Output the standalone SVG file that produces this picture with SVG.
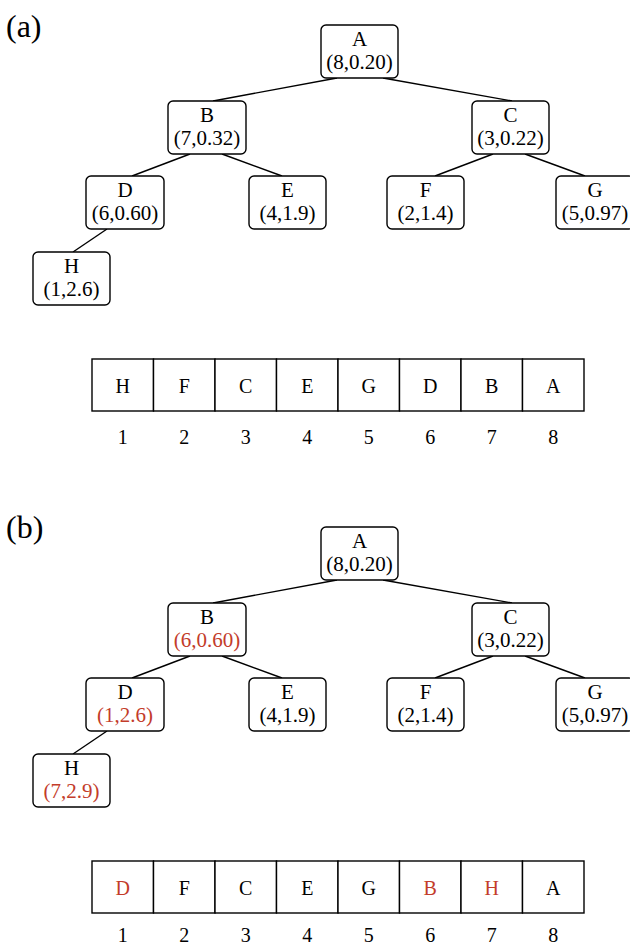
<svg xmlns="http://www.w3.org/2000/svg" width="630" height="947" viewBox="0 0 630 947">
<style>
text{font-family:"Liberation Serif","Times New Roman",serif;fill:#000;text-anchor:middle}
.nb{fill:#fff;stroke:#000;stroke-width:1.4}
.t{font-size:21px}
.at{font-size:20px}
.red{fill:#c33c2a}
.edge{stroke:#000;stroke-width:1.4;fill:none}
.cell{fill:#fff;stroke:#000;stroke-width:1.4}
.lab{font-size:32px;text-anchor:start}
</style>
<rect width="630" height="947" fill="#fff"/>

<!-- Panel (a) -->
<text class="lab" x="6" y="37">(a)</text>
<g id="edges-a">
<line class="edge" x1="337" y1="78" x2="213" y2="101"/>
<line class="edge" x1="383" y1="78" x2="512" y2="101"/>
<line class="edge" x1="190" y1="154" x2="132" y2="176"/>
<line class="edge" x1="222" y1="154" x2="282" y2="176"/>
<line class="edge" x1="107" y1="229" x2="73" y2="252"/>
<line class="edge" x1="493" y1="154" x2="435" y2="176"/>
<line class="edge" x1="525" y1="154" x2="585" y2="176"/>
</g>
<g id="a-A"><rect class="nb" x="321" y="25" width="77" height="53" rx="5"/><text class="t" x="359.5" y="46">A</text><text class="t" x="359.5" y="69">(8,0.20)</text></g>
<g id="a-B"><rect class="nb" x="168" y="101" width="78" height="53" rx="5"/><text class="t" x="207" y="122">B</text><text class="t" x="207" y="145">(7,0.32)</text></g>
<g id="a-C"><rect class="nb" x="472" y="101" width="77" height="53" rx="5"/><text class="t" x="510.5" y="122">C</text><text class="t" x="510.5" y="145">(3,0.22)</text></g>
<g id="a-D"><rect class="nb" x="86" y="176" width="78" height="53" rx="5"/><text class="t" x="125" y="197">D</text><text class="t" x="125" y="220">(6,0.60)</text></g>
<g id="a-E"><rect class="nb" x="249" y="176" width="77" height="53" rx="5"/><text class="t" x="287.5" y="197">E</text><text class="t" x="287.5" y="220">(4,1.9)</text></g>
<g id="a-F"><rect class="nb" x="387" y="176" width="77" height="53" rx="5"/><text class="t" x="425.5" y="197">F</text><text class="t" x="425.5" y="220">(2,1.4)</text></g>
<g id="a-G"><rect class="nb" x="556" y="176" width="78" height="53" rx="5"/><text class="t" x="595" y="197">G</text><text class="t" x="595" y="220">(5,0.97)</text></g>
<g id="a-H"><rect class="nb" x="33" y="252" width="77" height="53" rx="5"/><text class="t" x="71.5" y="273">H</text><text class="t" x="71.5" y="296">(1,2.6)</text></g>

<g id="array-a">
<rect class="cell" x="92" y="359" width="61.5" height="52"/>
<rect class="cell" x="153.5" y="359" width="61.5" height="52"/>
<rect class="cell" x="215" y="359" width="61.5" height="52"/>
<rect class="cell" x="276.5" y="359" width="61.5" height="52"/>
<rect class="cell" x="338" y="359" width="61.5" height="52"/>
<rect class="cell" x="399.5" y="359" width="61.5" height="52"/>
<rect class="cell" x="461" y="359" width="61.5" height="52"/>
<rect class="cell" x="522.5" y="359" width="61.5" height="52"/>
<text class="at" x="122.75" y="393">H</text>
<text class="at" x="184.25" y="393">F</text>
<text class="at" x="245.75" y="393">C</text>
<text class="at" x="307.25" y="393">E</text>
<text class="at" x="368.75" y="393">G</text>
<text class="at" x="430.25" y="393">D</text>
<text class="at" x="491.75" y="393">B</text>
<text class="at" x="553.25" y="393">A</text>
<text class="at" x="122.75" y="444">1</text>
<text class="at" x="184.25" y="444">2</text>
<text class="at" x="245.75" y="444">3</text>
<text class="at" x="307.25" y="444">4</text>
<text class="at" x="368.75" y="444">5</text>
<text class="at" x="430.25" y="444">6</text>
<text class="at" x="491.75" y="444">7</text>
<text class="at" x="553.25" y="444">8</text>
</g>

<!-- Panel (b) -->
<text class="lab" x="6" y="538">(b)</text>
<g id="edges-b" transform="translate(0,502)">
<line class="edge" x1="337" y1="78" x2="213" y2="101"/>
<line class="edge" x1="383" y1="78" x2="512" y2="101"/>
<line class="edge" x1="190" y1="154" x2="132" y2="176"/>
<line class="edge" x1="222" y1="154" x2="282" y2="176"/>
<line class="edge" x1="107" y1="229" x2="73" y2="252"/>
<line class="edge" x1="493" y1="154" x2="435" y2="176"/>
<line class="edge" x1="525" y1="154" x2="585" y2="176"/>
</g>
<g transform="translate(0,502)">
<g id="b-A"><rect class="nb" x="321" y="25" width="77" height="53" rx="5"/><text class="t" x="359.5" y="46">A</text><text class="t" x="359.5" y="69">(8,0.20)</text></g>
<g id="b-B"><rect class="nb" x="168" y="101" width="78" height="53" rx="5"/><text class="t" x="207" y="122">B</text><text class="t red" x="207" y="145">(6,0.60)</text></g>
<g id="b-C"><rect class="nb" x="472" y="101" width="77" height="53" rx="5"/><text class="t" x="510.5" y="122">C</text><text class="t" x="510.5" y="145">(3,0.22)</text></g>
<g id="b-D"><rect class="nb" x="86" y="176" width="78" height="53" rx="5"/><text class="t" x="125" y="197">D</text><text class="t red" x="125" y="220">(1,2.6)</text></g>
<g id="b-E"><rect class="nb" x="249" y="176" width="77" height="53" rx="5"/><text class="t" x="287.5" y="197">E</text><text class="t" x="287.5" y="220">(4,1.9)</text></g>
<g id="b-F"><rect class="nb" x="387" y="176" width="77" height="53" rx="5"/><text class="t" x="425.5" y="197">F</text><text class="t" x="425.5" y="220">(2,1.4)</text></g>
<g id="b-G"><rect class="nb" x="556" y="176" width="78" height="53" rx="5"/><text class="t" x="595" y="197">G</text><text class="t" x="595" y="220">(5,0.97)</text></g>
<g id="b-H"><rect class="nb" x="33" y="252" width="77" height="53" rx="5"/><text class="t" x="71.5" y="273">H</text><text class="t red" x="71.5" y="296">(7,2.9)</text></g>

<g id="array-b">
<rect class="cell" x="92" y="359" width="61.5" height="52"/>
<rect class="cell" x="153.5" y="359" width="61.5" height="52"/>
<rect class="cell" x="215" y="359" width="61.5" height="52"/>
<rect class="cell" x="276.5" y="359" width="61.5" height="52"/>
<rect class="cell" x="338" y="359" width="61.5" height="52"/>
<rect class="cell" x="399.5" y="359" width="61.5" height="52"/>
<rect class="cell" x="461" y="359" width="61.5" height="52"/>
<rect class="cell" x="522.5" y="359" width="61.5" height="52"/>
<text class="at red" x="122.75" y="393">D</text>
<text class="at" x="184.25" y="393">F</text>
<text class="at" x="245.75" y="393">C</text>
<text class="at" x="307.25" y="393">E</text>
<text class="at" x="368.75" y="393">G</text>
<text class="at red" x="430.25" y="393">B</text>
<text class="at red" x="491.75" y="393">H</text>
<text class="at" x="553.25" y="393">A</text>
<text class="at" x="122.75" y="440">1</text>
<text class="at" x="184.25" y="440">2</text>
<text class="at" x="245.75" y="440">3</text>
<text class="at" x="307.25" y="440">4</text>
<text class="at" x="368.75" y="440">5</text>
<text class="at" x="430.25" y="440">6</text>
<text class="at" x="491.75" y="440">7</text>
<text class="at" x="553.25" y="440">8</text>
</g>
</g>
</svg>
